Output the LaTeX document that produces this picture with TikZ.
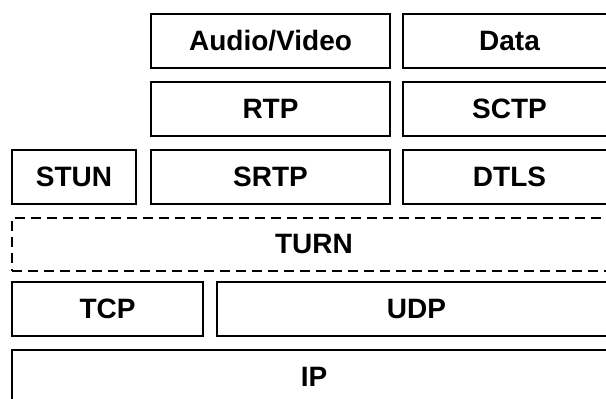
\documentclass[tikz,border=0pt]{standalone}
\usepackage{fontspec}
\setmainfont{Liberation Sans}

\tikzset{layer/.style={draw, line width=1.8pt, minimum height=54pt, inner sep=0pt,
  font=\fontsize{28}{30}\selectfont\bfseries}}
\tikzset{optlayer/.style={layer, dash pattern=on 10pt off 6pt}}

\begin{document}
\begin{tikzpicture}[x=1pt, y=-1pt]
\useasboundingbox (0,0) rectangle (606,399);
\clip (0,0) rectangle (606,399);

% application
\node[layer, minimum width=239pt] (av) at (270.5,41) {Audio/Video};
\node[layer, minimum width=213pt] (data) at (509.5,41) {Data};

% transport of media and data
\node[layer, minimum width=239pt] (rtp) at (270.5,109) {RTP};
\node[layer, minimum width=213pt] (sctp) at (509.5,109) {SCTP};

\node[layer, minimum width=124pt] (stun) at (74,177) {STUN};
\node[layer, minimum width=239pt] (srtp) at (270.5,177) {SRTP};
\node[layer, minimum width=213pt] (dtls) at (509.5,177) {DTLS};

% relay
\node[optlayer, minimum width=604pt, minimum height=53pt] (turn) at (314,244.5) {TURN};

\node[layer, minimum width=191pt] (tcp) at (107.5,309) {TCP};
\node[layer, minimum width=399pt] (udp) at (416.5,309) {UDP};

\node[layer, minimum width=604pt] (ip) at (314,377) {IP};
\end{tikzpicture}
\end{document}
